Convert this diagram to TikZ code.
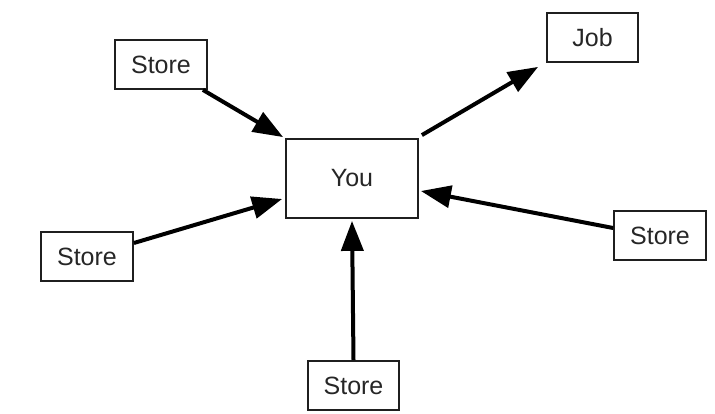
\documentclass[tikz,border=0pt]{standalone}
\usepackage{fontspec}
\setmainfont{Liberation Sans}
\usetikzlibrary{arrows.meta}
\begin{document}
\begin{tikzpicture}[x=1pt,y=-1pt,
  box/.style={draw=black!88,line width=1.8pt,inner sep=0pt,font=\fontsize{25}{30}\selectfont,text=black!85},
  storebox/.style={box,minimum width=92pt,minimum height=49pt},
  youbox/.style={box,minimum width=132pt,minimum height=79pt},
  conn/.style={line width=4pt,-{Triangle[length=30pt,width=22pt]}}]
\useasboundingbox (0,0) rectangle (715,414);
\node[storebox] (s1) at (161,64.5) {Store};
\node[storebox,minimum width=91pt] (job) at (592.5,37.5) {Job};
\node[youbox] (you) at (352,178.5) {You};
\node[storebox] (s2) at (87,256.5) {Store};
\node[storebox] (s3) at (660,235.5) {Store};
\node[storebox,minimum width=91pt] (s4) at (353.5,385.5) {Store};
\draw[conn] ([shift={(-5,0)}]s1.south east) -- ([shift={(-2,-1)}]you.north west);
\draw[conn] ([shift={(3,-3)}]you.north east) -- ([shift={(-8,4)}]job.south west);
\draw[conn] ([shift={(0,-13.5)}]s2.east) -- ([shift={(-3,20.5)}]you.west);
\draw[conn] ([shift={(0,-7.5)}]s3.west) -- ([shift={(2,12.5)}]you.east);
\draw[conn] (s4.north) -- ([shift={(0,2)}]you.south);
\end{tikzpicture}
\end{document}
